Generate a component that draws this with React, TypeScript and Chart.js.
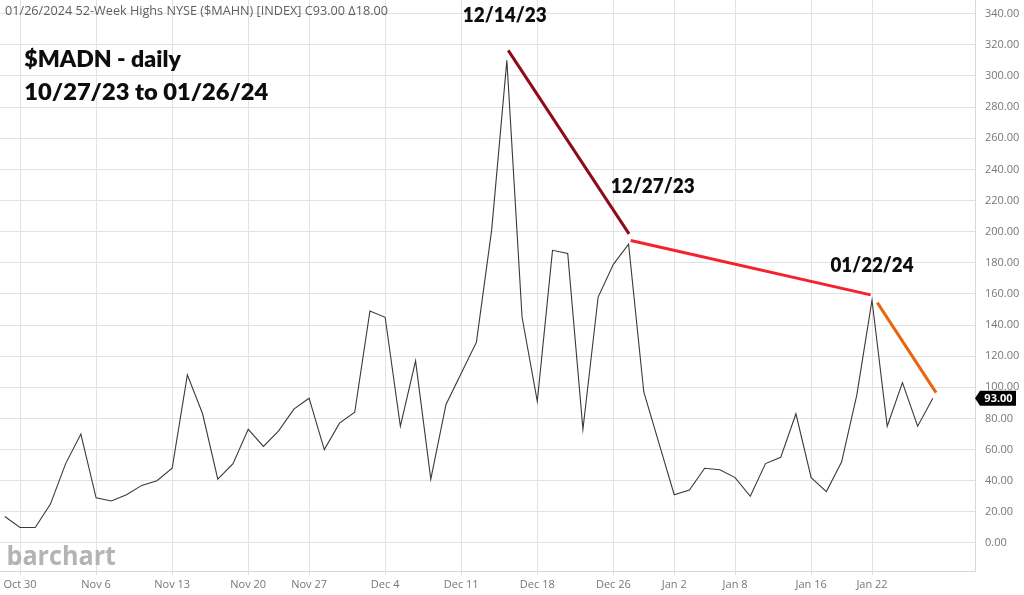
import React, { useEffect, useRef } from "react";
import { Chart, registerables } from "chart.js";

Chart.register(...registerables);

// ---- data ----
const dates = [
  "Oct 27", "Oct 30", "Oct 31", "Nov 1", "Nov 2", "Nov 3",
  "Nov 6", "Nov 7", "Nov 8", "Nov 9", "Nov 10",
  "Nov 13", "Nov 14", "Nov 15", "Nov 16", "Nov 17",
  "Nov 20", "Nov 21", "Nov 22", "Nov 24",
  "Nov 27", "Nov 28", "Nov 29", "Nov 30", "Dec 1",
  "Dec 4", "Dec 5", "Dec 6", "Dec 7", "Dec 8",
  "Dec 11", "Dec 12", "Dec 13", "Dec 14", "Dec 15",
  "Dec 18", "Dec 19", "Dec 20", "Dec 21", "Dec 22",
  "Dec 26", "Dec 27", "Dec 28", "Dec 29",
  "Jan 2", "Jan 3", "Jan 4", "Jan 5",
  "Jan 8", "Jan 9", "Jan 10", "Jan 11", "Jan 12",
  "Jan 16", "Jan 17", "Jan 18", "Jan 19",
  "Jan 22", "Jan 23", "Jan 24", "Jan 25", "Jan 26",
];

const values = [
  17, 10, 10, 25, 51, 70,
  29, 27, 31, 37, 40,
  48, 108, 83, 41, 51,
  73, 62, 72, 86,
  93, 60, 77, 84, 149,
  145, 75, 117, 41, 89,
  109, 129, 201, 310, 145,
  91, 188, 186, 73, 158,
  179, 192, 97, 64,
  31, 34, 48, 47,
  42, 30, 51, 55, 83,
  42, 33, 52, 95,
  156, 75, 103, 75, 93,
];

const xTickLabels = [
  "Oct 30", "Nov 6", "Nov 13", "Nov 20", "Nov 27", "Dec 4", "Dec 11",
  "Dec 18", "Dec 26", "Jan 2", "Jan 8", "Jan 16", "Jan 22",
];
const xTickDays = xTickLabels.map((l) => dates.indexOf(l));

const yTicks = [0, 20, 40, 60, 80, 100, 120, 140, 160, 180, 200, 220, 240, 260, 280, 300, 320, 340];

// trend lines drawn on the chart (day index, value)
const trendDec14ToDec27 = [
  { x: 33.09, y: 316.4 },
  { x: 41.03, y: 198.6 },
];
const trendDec27ToJan22 = [
  { x: 41.14, y: 194.3 },
  { x: 56.91, y: 159.4 },
];
const trendJan22ToEnd = [
  { x: 57.35, y: 154.4 },
  { x: 61.21, y: 96.6 },
];

const headerText = "01/26/2024 52-Week Highs NYSE ($MAHN) [INDEX] C93.00 \u039418.00";
const titleLine1 = "$MADN - daily";
const titleLine2 = "10/27/23 to 01/26/24";
const noteLabels = ["12/14/23", "12/27/23", "01/22/24"];
const lastValue = values[values.length - 1];

// ---- helpers ----
function fitText(
  ctx: CanvasRenderingContext2D,
  text: string,
  left: number,
  baseline: number,
  font: string,
  width: number,
  color: string
) {
  ctx.save();
  ctx.font = font;
  ctx.fillStyle = color;
  ctx.textAlign = "left";
  ctx.textBaseline = "alphabetic";
  const w = ctx.measureText(text).width || 1;
  ctx.translate(left, baseline);
  ctx.scale(width / w, 1);
  ctx.fillText(text, 0, 0);
  ctx.restore();
}

const overlayPlugin = {
  id: "overlay",
  beforeDatasetsDraw(chart: any) {
    const ctx = chart.ctx as CanvasRenderingContext2D;
    fitText(ctx, "barchart", 6.5, 565, "bold 27px 'Open Sans'", 109.5, "#b4b4b4");
  },
  afterDraw(chart: any) {
    const ctx = chart.ctx as CanvasRenderingContext2D;
    // header
    fitText(ctx, headerText, 5, 15, "12px 'Open Sans'", 383, "#5f5f5f");
    // title
    fitText(ctx, titleLine1, 24.3, 67.3, "800 22px Lato", 156.5, "#0d0d0d");
    fitText(ctx, titleLine2, 24.3, 99.5, "800 22px Lato", 244, "#0d0d0d");
    // annotation labels
    fitText(ctx, noteLabels[0], 462.7, 21.7, "800 20px Lato", 84, "#0d0d0d");
    fitText(ctx, noteLabels[1], 610.7, 193, "800 20px Lato", 84, "#0d0d0d");
    fitText(ctx, noteLabels[2], 830.5, 272, "800 20px Lato", 83, "#0d0d0d");

    // last value tag
    const yScale = chart.scales.y;
    const cy = yScale.getPixelForValue(lastValue);
    const x0 = chart.chartArea.right;
    ctx.save();
    ctx.beginPath();
    ctx.moveTo(x0, cy);
    ctx.lineTo(x0 + 5, cy - 7.5);
    ctx.lineTo(x0 + 41, cy - 7.5);
    ctx.lineTo(x0 + 41, cy + 7.5);
    ctx.lineTo(x0 + 5, cy + 7.5);
    ctx.closePath();
    ctx.fillStyle = "#000000";
    ctx.fill();
    ctx.fillStyle = "#ffffff";
    ctx.font = "bold 11px 'Open Sans'";
    ctx.textAlign = "center";
    ctx.textBaseline = "middle";
    ctx.fillText(lastValue.toFixed(2), x0 + 23.5, cy + 0.5);
    ctx.restore();
  },
};

export default function App() {
  const canvasRef = useRef<HTMLCanvasElement | null>(null);

  useEffect(() => {
    const canvas = canvasRef.current;
    if (!canvas) return;
    const tickFont = { family: "'Open Sans'", size: 11 };
    const chart = new Chart(canvas, {
      type: "line",
      data: {
        datasets: [
          {
            label: "$MAHN",
            data: values.map((v, i) => ({ x: i, y: v })),
            borderColor: "#3a3a3a",
            borderWidth: 1.1,
            pointRadius: 0,
            tension: 0,
          },
          {
            label: "trend1",
            data: trendDec14ToDec27,
            borderColor: "#8e0b17",
            borderWidth: 3,
            pointRadius: 0,
          },
          {
            label: "trend2",
            data: trendDec27ToJan22,
            borderColor: "#f5222d",
            borderWidth: 3,
            pointRadius: 0,
          },
          {
            label: "trend3",
            data: trendJan22ToEnd,
            borderColor: "#e8650e",
            borderWidth: 3,
            pointRadius: 0,
          },
        ],
      },
      options: {
        animation: false,
        responsive: false,
        devicePixelRatio: 1,
        layout: { padding: 0 },
        plugins: {
          legend: { display: false },
          tooltip: { enabled: false },
        },
        scales: {
          x: {
            type: "linear",
            min: -0.3155,
            max: 63.77,
            bounds: "data",
            afterBuildTicks: (s: any) => {
              s.ticks = xTickDays.map((v) => ({ value: v }));
            },
            afterFit: (s: any) => {
              s.height = 24;
              s.paddingLeft = 0;
              s.paddingRight = 0;
            },
            grid: { color: "#e2e2e2", drawTicks: true, tickLength: 4 },
            border: { color: "#d8d8d8" },
            ticks: {
              autoSkip: false,
              maxRotation: 0,
              padding: 3,
              color: "#777777",
              font: tickFont,
              callback: (v: any) => {
                const i = xTickDays.indexOf(Number(v));
                return i >= 0 ? xTickLabels[i] : "";
              },
            },
          },
          y: {
            type: "linear",
            position: "right",
            min: -17.99,
            max: 348.8,
            bounds: "data",
            afterBuildTicks: (s: any) => {
              s.ticks = yTicks.map((v) => ({ value: v }));
            },
            afterFit: (s: any) => {
              s.width = 49;
              s.paddingTop = 0;
              s.paddingBottom = 0;
            },
            grid: { color: "#e2e2e2", drawTicks: false },
            border: { color: "#d8d8d8" },
            ticks: {
              padding: 10,
              color: "#777777",
              font: tickFont,
              callback: (v: any) => Number(v).toFixed(2),
            },
          },
        },
      },
      plugins: [overlayPlugin],
    } as any);
    return () => chart.destroy();
  }, []);

  return (
    <div style={{ position: "absolute", left: 0, top: 0, width: 1024, height: 595, background: "#ffffff" }}>
      <canvas ref={canvasRef} width={1024} height={595} style={{ width: 1024, height: 595, display: "block" }} />
    </div>
  );
}
